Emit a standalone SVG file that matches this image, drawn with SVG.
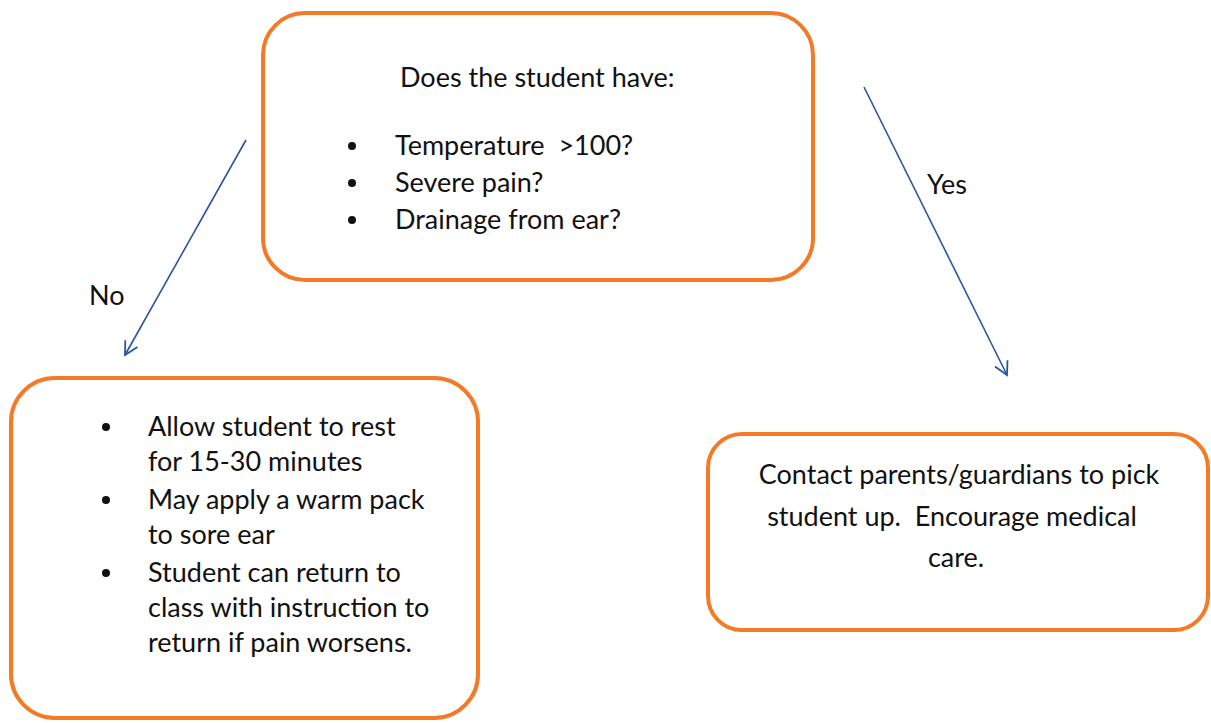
<svg xmlns="http://www.w3.org/2000/svg" width="1211" height="723" viewBox="0 0 1211 723">
<defs>
<style>
.box{fill:#fff;stroke:#F47A28;stroke-width:4}
.t{font-family:Lato,"Liberation Sans",sans-serif;font-size:27px;fill:#111;white-space:pre}
.c{text-anchor:middle}
.dot{fill:#111}
.conn{stroke:#2A55A0;stroke-width:1.6;fill:none}
</style>
<marker id="arr" markerWidth="20" markerHeight="20" refX="14" refY="8" orient="auto" markerUnits="userSpaceOnUse">
<path d="M1,1 L14,8 L1,15" fill="none" stroke="#2A55A0" stroke-width="1.8"/>
</marker>
</defs>
<rect width="1211" height="723" fill="#fff"/>
<g id="connectors">
<line class="conn" x1="246" y1="140" x2="125" y2="355" marker-end="url(#arr)"/>
<line class="conn" x1="864" y1="87" x2="1007" y2="375" marker-end="url(#arr)"/>
<text class="t" x="89" y="305">No</text>
<text class="t" x="927" y="194">Yes</text>
</g>
<g id="question">
<rect class="box" x="263" y="13" width="550" height="267" rx="42"/>
<text class="t" x="400" y="87">Does the student have:</text>
<circle class="dot" cx="352" cy="146" r="4"/>
<circle class="dot" cx="352" cy="183" r="4"/>
<circle class="dot" cx="352" cy="220" r="4"/>
<text class="t" x="395" y="155" xml:space="preserve">Temperature  &gt;100?</text>
<text class="t" x="395" y="192">Severe pain?</text>
<text class="t" x="395" y="229">Drainage from ear?</text>
</g>
<g id="no-action">
<rect class="box" x="11" y="378" width="467" height="340" rx="44"/>
<circle class="dot" cx="106" cy="427" r="4"/>
<circle class="dot" cx="106" cy="500" r="4"/>
<circle class="dot" cx="106" cy="573" r="4"/>
<text class="t" x="148" y="436">Allow student to rest</text>
<text class="t" x="148" y="471">for 15-30 minutes</text>
<text class="t" x="148" y="509">May apply a warm pack</text>
<text class="t" x="148" y="544">to sore ear</text>
<text class="t" x="148" y="582">Student can return to</text>
<text class="t" x="148" y="617">class with instruction to</text>
<text class="t" x="148" y="652">return if pain worsens.</text>
</g>
<g id="yes-action">
<rect class="box" x="708" y="434" width="500" height="196" rx="34"/>
<text class="t c" x="959" y="484">Contact parents/guardians to pick</text>
<text class="t c" x="952" y="526" xml:space="preserve">student up.  Encourage medical</text>
<text class="t c" x="956" y="567">care.</text>
</g>
</svg>
